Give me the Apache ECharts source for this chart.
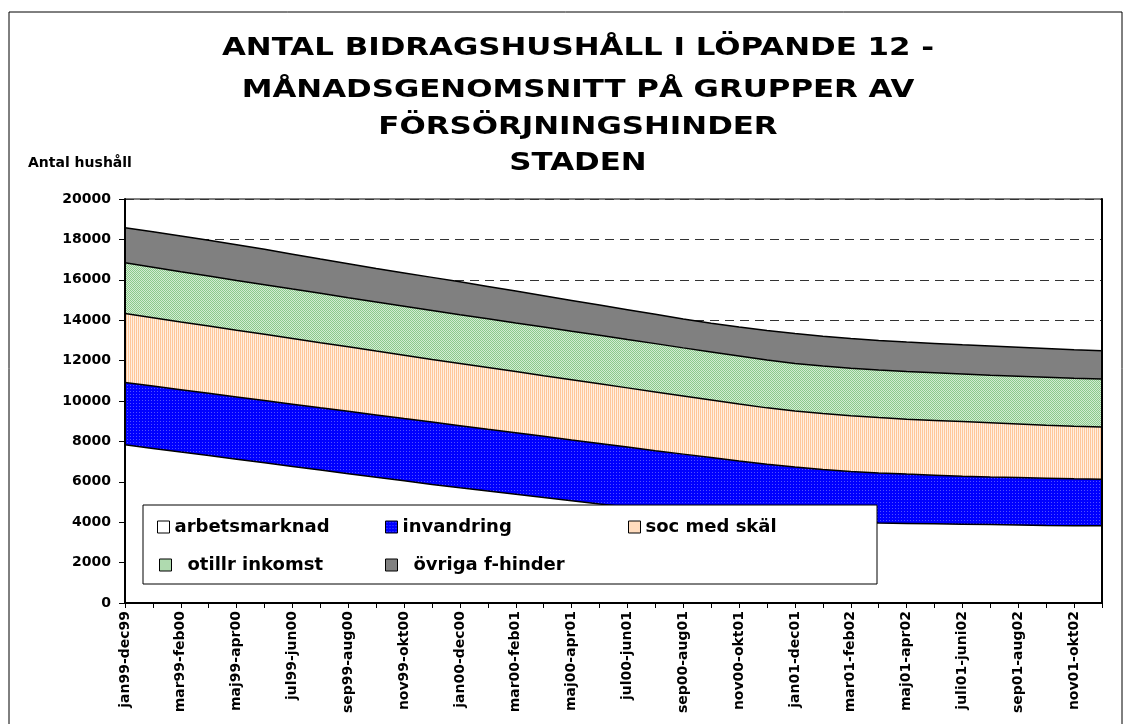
<!DOCTYPE html>
<html>
<head>
<meta charset="utf-8">
<title>Antal bidragshushåll</title>
<script src="https://cdn.jsdelivr.net/npm/echarts@6/dist/echarts.min.js"></script>
<style>
  html, body { margin: 0; padding: 0; background: #fff; }
  #main { width: 1133px; height: 724px; }
</style>
</head>
<body>
<div id="main"></div>
<script>
// 12-månaders löpande perioder
const categories = [
  'jan99-dec99', 'feb99-jan00', 'mar99-feb00', 'apr99-mar00', 'maj99-apr00', 'jun99-maj00',
  'jul99-jun00', 'aug99-jul00', 'sep99-aug00', 'okt99-sep00', 'nov99-okt00', 'dec99-nov00',
  'jan00-dec00', 'feb00-jan01', 'mar00-feb01', 'apr00-mar01', 'maj00-apr01', 'jun00-maj01',
  'jul00-jun01', 'aug00-jul01', 'sep00-aug01', 'okt00-sep01', 'nov00-okt01', 'dec00-nov01',
  'jan01-dec01', 'feb01-jan02', 'mar01-feb02', 'apr01-mar02', 'maj01-apr02', 'jun01-maj02',
  'juli01-juni02', 'aug01-juli02', 'sep01-aug02', 'okt01-sep02', 'nov01-okt02', 'dec01-nov02'
]

const arbetsmarknad = [7830, 7650, 7470, 7300, 7120, 6940, 6760, 6580, 6400, 6220, 6050, 5870,
  5700, 5540, 5380, 5220, 5060, 4900, 4750, 4610, 4480, 4360, 4250, 4160,
  4090, 4030, 3990, 3960, 3940, 3920, 3900, 3880, 3860, 3840, 3830, 3820]
const invandring = [3090, 3090, 3090, 3080, 3080, 3080, 3080, 3080, 3090, 3090, 3080, 3090,
  3080, 3060, 3050, 3030, 3010, 3000, 2970, 2930, 2890, 2840, 2780, 2710,
  2640, 2580, 2520, 2480, 2440, 2410, 2380, 2360, 2350, 2340, 2320, 2310]
const socMedSkal = [3410, 3380, 3350, 3330, 3300, 3280, 3250, 3220, 3190, 3160, 3140, 3100,
  3080, 3060, 3030, 3000, 2980, 2950, 2930, 2910, 2880, 2850, 2820, 2790,
  2770, 2770, 2760, 2740, 2720, 2710, 2700, 2680, 2650, 2620, 2600, 2580]
const otillrInkomst = [2510, 2500, 2490, 2480, 2470, 2460, 2450, 2450, 2430, 2430, 2420, 2420,
  2410, 2410, 2400, 2410, 2400, 2400, 2390, 2390, 2380, 2380, 2380, 2370,
  2360, 2350, 2350, 2350, 2360, 2360, 2360, 2360, 2370, 2380, 2380, 2380]
const ovrigaFHinder = [1740, 1760, 1770, 1770, 1770, 1750, 1730, 1700, 1690, 1660, 1650, 1640,
  1630, 1600, 1580, 1550, 1530, 1500, 1480, 1450, 1430, 1420, 1430, 1460,
  1480, 1480, 1480, 1470, 1460, 1450, 1440, 1440, 1430, 1420, 1410, 1400]

const titleLines = [
  'ANTAL BIDRAGSHUSHÅLL I LÖPANDE 12 -',
  'MÅNADSGENOMSNITT PÅ GRUPPER AV',
  'FÖRSÖRJNINGSHINDER',
  'STADEN'
]

const FONT = '"DejaVu Sans", "Liberation Sans", Arial, sans-serif'

// small canvas fill patterns, like the excel area fills
function pattern(w, h, bg, fg, dots) {
  var c = document.createElement('canvas')
  c.width = w
  c.height = h
  var ctx = c.getContext('2d')
  ctx.fillStyle = bg
  ctx.fillRect(0, 0, w, h)
  ctx.fillStyle = fg
  dots.forEach(function (d) { ctx.fillRect(d[0], d[1], 1, 1) })
  return { image: c, repeat: 'repeat' }
}

var fills = {
  arbetsmarknad: '#ffffff',
  invandring: pattern(3, 3, '#0000ff', '#5050ff', [[1, 1]]),
  soc: pattern(2, 1, '#ffc79a', '#fff0e2', [[1, 0]]),
  otillr: pattern(2, 2, '#d3ecd3', '#8cc98c', [[0, 0], [1, 1]]),
  ovriga: '#808080'
}

function areaSeries(name, data, fill) {
  return {
    name: name,
    type: 'line',
    stack: 'total',
    data: data,
    symbol: 'none',
    smooth: false,
    itemStyle: { color: fill, borderColor: '#000' },
    lineStyle: { color: '#000', width: 1.5 },
    areaStyle: { color: fill, opacity: 1 },
    emphasis: { disabled: true }
  }
}

function legendItem(name, left, top, indent) {
  return {
    data: [name],
    left: left,
    top: top,
    padding: 0,
    z: 60,
    icon: 'rect',
    itemWidth: 12,
    itemHeight: 12,
    selectedMode: false,
    itemStyle: { borderColor: '#000', borderWidth: 1 },
    textStyle: {
      fontFamily: FONT, fontWeight: 'bold', fontSize: 18, color: '#000',
      padding: [0, 0, 0, indent]
    }
  }
}

var chart = echarts.init(document.getElementById('main'), null, { renderer: 'canvas' })

var scaleY = { type: 'value', min: 0, max: 20000, interval: 2000 }

var option = {
  animation: false,
  backgroundColor: '#fff',
  grid: {
    left: 125, right: 31, top: 199, bottom: 121,
    show: true, borderColor: '#000', borderWidth: 1
  },
  xAxis: {
    type: 'category',
    data: categories,
    boundaryGap: false,
    z: 10,
    axisLine: { lineStyle: { color: '#000', width: 2 } },
    axisTick: { interval: 0, length: 5, lineStyle: { color: '#000', width: 1 } },
    axisLabel: {
      interval: 1, rotate: 90, margin: 8,
      fontFamily: FONT, fontWeight: 'bold', fontSize: 14, color: '#000'
    },
    splitLine: { show: false }
  },
  yAxis: [
    Object.assign({}, scaleY, {
      position: 'left',
      z: 10,
      axisLine: { show: true, lineStyle: { color: '#000', width: 2 } },
      axisTick: { show: true, length: 6, lineStyle: { color: '#000' } },
      axisLabel: {
        margin: 14, fontFamily: FONT, fontWeight: 'bold', fontSize: 14, color: '#000',
        formatter: function (v) { return String(v) }
      },
      splitLine: { show: false }
    }),
    Object.assign({}, scaleY, {
      position: 'left',
      axisLine: { show: false },
      axisTick: { show: false },
      axisLabel: { show: false },
      splitLine: { show: true, lineStyle: { color: '#333', width: 1, type: [9, 6] } }
    }),
    Object.assign({}, scaleY, {
      position: 'right',
      z: 10,
      axisLine: { show: true, lineStyle: { color: '#000', width: 2 } },
      axisTick: { show: false },
      axisLabel: { show: false },
      splitLine: { show: false }
    })
  ],
  legend: [
    legendItem('arbetsmarknad', 157, 518, 0),
    legendItem('invandring', 385, 518, 0),
    legendItem('soc med skäl', 628, 518, 0),
    legendItem('otillr inkomst', 159, 556, 11),
    legendItem('övriga f-hinder', 385, 556, 11)
  ],
  graphic: [
    // outer chart frame
    { type: 'rect', z: 1, silent: true,
      shape: { x: 9, y: 12, width: 1113, height: 730 },
      style: { fill: 'none', stroke: '#000', lineWidth: 1 } },
    // legend frame
    { type: 'rect', z: 50, silent: true,
      shape: { x: 143, y: 505, width: 734, height: 79 },
      style: { fill: '#fff', stroke: '#000', lineWidth: 1 } },
    { type: 'text', x: 28, y: 163, z: 5, silent: true,
      style: { text: 'Antal hushåll', font: 'bold 14px ' + FONT, fill: '#000',
        textAlign: 'left', textVerticalAlign: 'middle', align: 'left', verticalAlign: 'middle' } }
  ].concat(titleLines.map(function (line, i) {
    return {
      type: 'text', x: 578, y: [48, 90, 127, 163][i], scaleX: 1.235, z: 5, silent: true,
      style: { text: line, font: 'bold 25px ' + FONT, fill: '#000',
        textAlign: 'center', textVerticalAlign: 'middle', align: 'center', verticalAlign: 'middle' }
    }
  })),
  series: [
    areaSeries('arbetsmarknad', arbetsmarknad, fills.arbetsmarknad),
    areaSeries('invandring', invandring, fills.invandring),
    areaSeries('soc med skäl', socMedSkal, fills.soc),
    areaSeries('otillr inkomst', otillrInkomst, fills.otillr),
    areaSeries('övriga f-hinder', ovrigaFHinder, fills.ovriga)
  ]
}

chart.setOption(option)
window.addEventListener('resize', function () {
  chart.resize()
})
</script>
</body>
</html>
